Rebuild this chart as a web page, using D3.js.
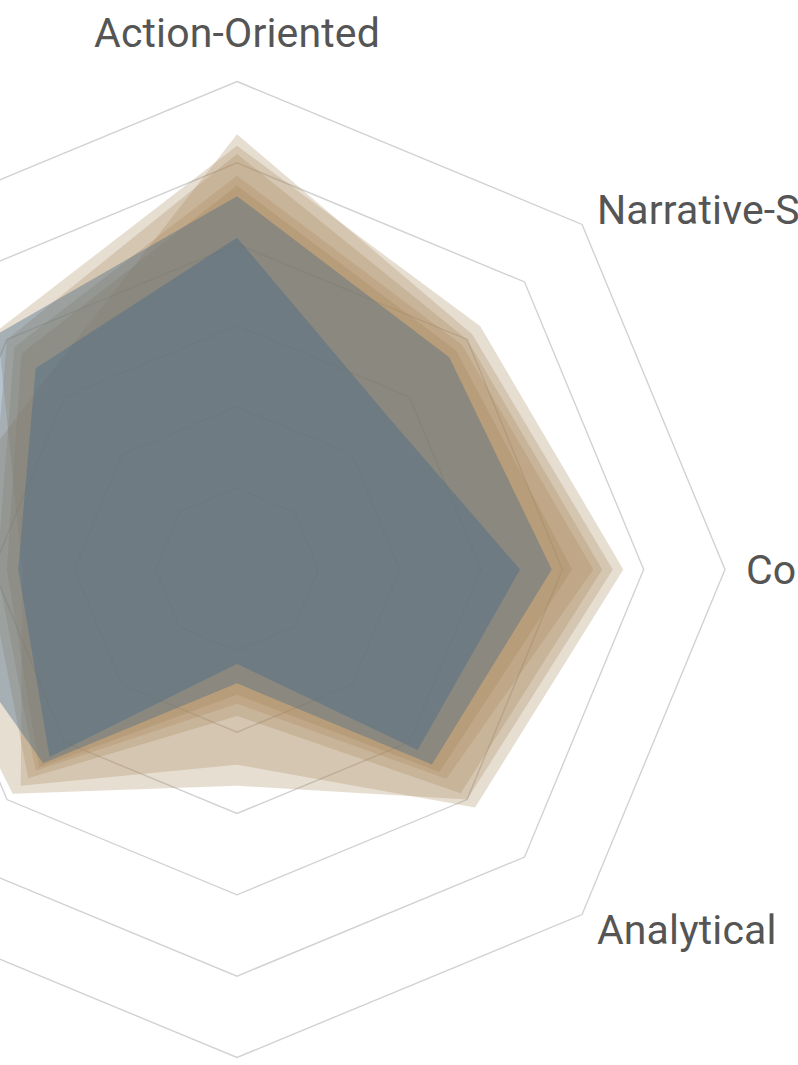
<!DOCTYPE html>
<html><head><meta charset="utf-8">
<script src="https://cdn.jsdelivr.net/npm/d3@7"></script>
<style>html,body{margin:0;padding:0;background:#fff;overflow:hidden}</style>
</head><body><svg id="chart" width="798" height="1065"></svg>
<script>
// ---- data ----
const axes = ["Action-Oriented","Narrative-Style","Conversational","Analytical","Formal","Empathetic","Technical","Persuasive"];
const ringLevels = [1,2,3,4,5,6];
const seriesNames = ["Model A","Model B","Model C","Model D","Model E","Model F","Model G"];
const seriesGroups = ["tan","tan","tan","tan","tan","blue","blue"];
const modelA = [5.35, 4.09, 4.62, 4.00, 2.66, 3.90, 4.13, 3.32];
const modelB = [5.21, 4.23, 4.75, 4.14, 2.40, 3.76, 2.64, 4.16];
const modelC = [5.11, 4.00, 4.49, 3.89, 1.80, 3.63, 3.07, 4.00];
const modelD = [4.84, 3.91, 4.38, 3.64, 1.65, 3.50, 2.95, 3.87];
const modelE = [4.72, 3.81, 4.12, 3.52, 1.54, 3.44, 2.83, 3.75];
const modelF = [4.59, 3.69, 3.87, 3.39, 1.40, 3.37, 4.06, 4.12];
const modelG = [4.08, 2.64, 3.48, 3.14, 1.16, 3.26, 2.69, 3.50];
const seriesValues = [modelA, modelB, modelC, modelD, modelE, modelF, modelG];
const groupColors = {tan: "#a8845a", blue: "#456886"};
const groupOpacity = {tan: 0.27, blue: 0.4};

// ---- layout ----
const svg = d3.select("#chart");
const cx = 237, cy = 569.5, R = 488;
const r = d3.scaleLinear().domain([0, 6]).range([0, R]);
const angle = d3.scaleLinear().domain([0, axes.length]).range([0, 2 * Math.PI]);
const g = svg.append("g").attr("transform", `translate(${cx},${cy})`);

const pt = (i, v) => [r(v) * Math.sin(angle(i)), -r(v) * Math.cos(angle(i))];

// grid rings
const ringLine = d3.line().curve(d3.curveLinearClosed);
g.selectAll("path.ring").data(ringLevels).join("path")
  .attr("class", "ring")
  .attr("d", lv => ringLine(axes.map((a, i) => pt(i, lv))))
  .attr("fill", "none").attr("stroke", "#d2d2d2").attr("stroke-width", 1.4);

// series polygons
const areaLine = d3.line().curve(d3.curveLinearClosed);
g.selectAll("path.series").data(seriesValues).join("path")
  .attr("class", "series")
  .attr("d", vals => areaLine(vals.map((v, i) => pt(i, v))))
  .attr("fill", (d, k) => groupColors[seriesGroups[k]])
  .attr("fill-opacity", (d, k) => groupOpacity[seriesGroups[k]])
  .attr("stroke", "none");

// axis labels
const Lr = 509;
g.selectAll("text.lab").data(axes).join("text")
  .attr("class", "lab")
  .attr("x", (d, i) => Lr * Math.sin(angle(i)))
  .attr("y", (d, i) => -Lr * Math.cos(angle(i)))
  .attr("text-anchor", (d, i) => {
    const s = Math.sin(angle(i));
    return Math.abs(s) < 0.01 ? "middle" : (s > 0 ? "start" : "end");
  })
  .attr("dy", (d, i) => {
    const c = Math.cos(angle(i));
    if (c > 0.99) return "-0.33em";
    if (c < -0.99) return "1em";
    return "0.35em";
  })
  .attr("font-family", "Roboto, 'Noto Sans', sans-serif")
  .attr("font-size", 41)
  .attr("letter-spacing", 0.15)
  .attr("fill", "#555555")
  .text(d => d);
</script>
</body></html>
